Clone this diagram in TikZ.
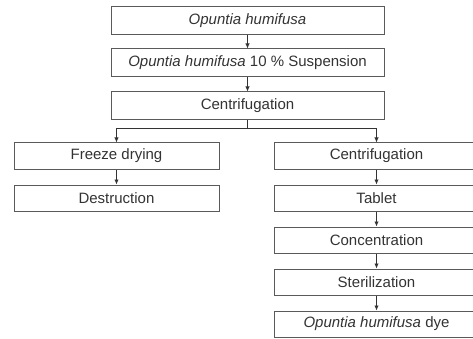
\documentclass[tikz,border=0pt]{standalone}
\usepackage{fontspec}
\setmainfont{Liberation Sans}
\usetikzlibrary{arrows.meta}
\definecolor{boxline}{HTML}{5A5A5A}
\definecolor{txt}{HTML}{333333}
\begin{document}
\begin{tikzpicture}[x=1pt,y=-1pt,
  stepbox/.style={draw=boxline,line width=1pt,inner sep=0pt,text=txt,
    font=\fontsize{15}{17}\selectfont},
  wide/.style={stepbox,minimum width=273pt,minimum height=28pt},
  col/.style={stepbox,minimum width=205pt,minimum height=26pt},
  arr/.style={draw=txt,line width=0.9pt,-{Latex[length=5pt,width=4.5pt]}}]
\useasboundingbox (0,0) rectangle (473,339);
\node[wide] (a) at (247.5,21) {\textit{Opuntia humifusa}};
\node[wide] (b) at (247.5,63) {\textit{Opuntia humifusa} 10 \% Suspension};
\node[wide] (c) at (247.5,106) {Centrifugation};
\node[col] (l1) at (116.5,156) {Freeze drying};
\node[col] (l2) at (116.5,198) {Destruction};
\node[col] (r1) at (376.5,156) {Centrifugation};
\node[col] (r2) at (376.5,198) {Tablet};
\node[col] (r3) at (376.5,240) {Concentration};
\node[col] (r4) at (376.5,282) {Sterilization};
\node[col] (r5) at (376.5,324) {\textit{Opuntia humifusa} dye};
\coordinate (br) at (247.5,128);
\draw[arr] (a) -- (b);
\draw[arr] (b) -- (c);
\draw[draw=txt,line width=0.9pt] (c.south) -- (br);
\draw[arr] (br) -| (l1.north);
\draw[arr] (br) -| (r1.north);
\draw[arr] (l1) -- (l2);
\draw[arr] (r1) -- (r2);
\draw[arr] (r2) -- (r3);
\draw[arr] (r3) -- (r4);
\draw[arr] (r4) -- (r5);
\end{tikzpicture}
\end{document}
